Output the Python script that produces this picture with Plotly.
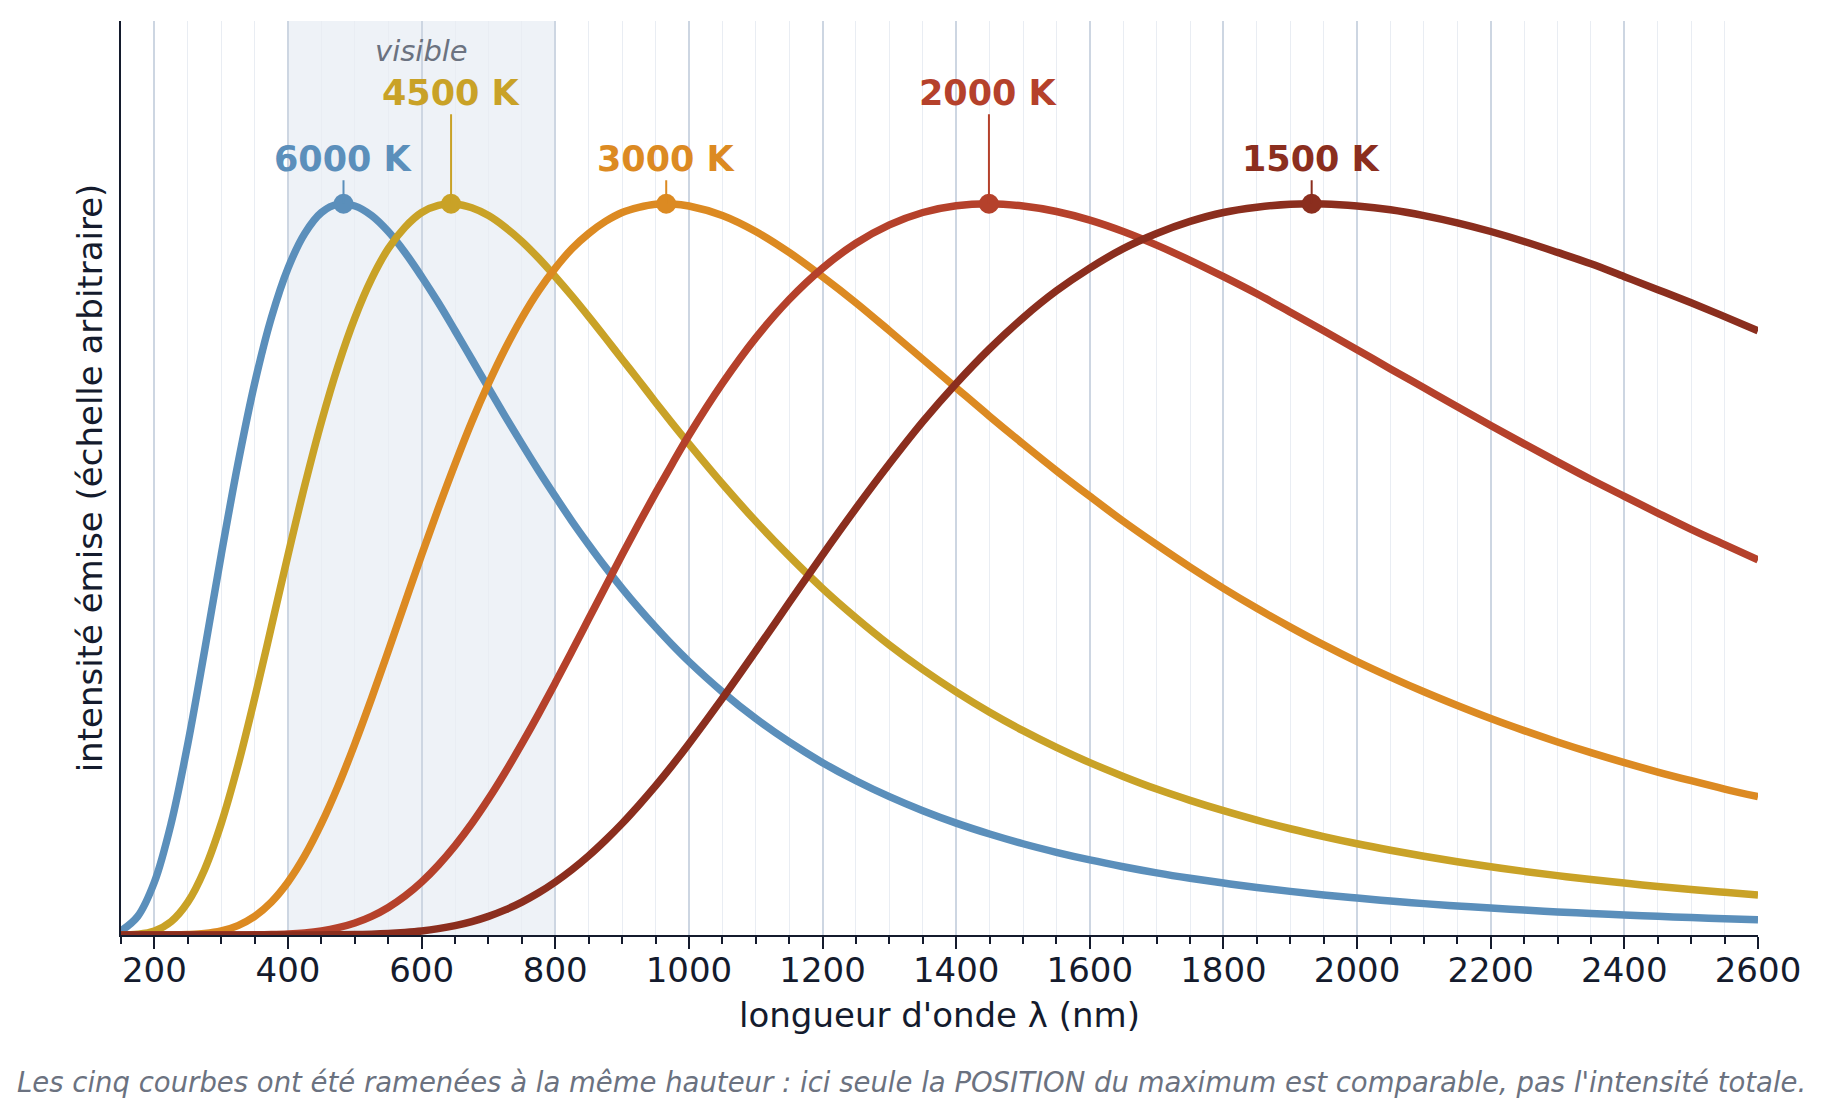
import plotly.graph_objects as go

# longueurs d'onde (nm) : pas de 25 nm jusqu'à 1000, puis 50 nm
wavelength = [150, 175, 200, 225, 250, 275, 300, 325, 350, 375,
              400, 425, 450, 475, 500, 525, 550, 575, 600, 625,
              650, 675, 700, 725, 750, 775, 800, 825, 850, 875,
              900, 925, 950, 975, 1000,
              1050, 1100, 1150, 1200, 1250, 1300, 1350, 1400, 1450, 1500,
              1550, 1600, 1650, 1700, 1750, 1800, 1850, 1900, 1950, 2000,
              2050, 2100, 2150, 2200, 2250, 2300, 2350, 2400, 2450, 2500,
              2550, 2600]

# intensités normalisées (maximum = 1)
i_6000 = [0.0056, 0.0255, 0.0725, 0.1525, 0.2616, 0.3884, 0.5200, 0.6444, 0.7543, 0.8441,
          0.9121, 0.9594, 0.9881, 0.9995, 0.9970, 0.9840, 0.9621, 0.9335, 0.9003, 0.8646,
          0.8264, 0.7874, 0.7483, 0.7094, 0.6717, 0.6350, 0.5999, 0.5658, 0.5338, 0.5031,
          0.4741, 0.4468, 0.4211, 0.3967, 0.3739,
          0.3326, 0.2960, 0.2640, 0.2357, 0.2110, 0.1892, 0.1700, 0.1530, 0.1381, 0.1248,
          0.1131, 0.1027, 0.0934, 0.0850, 0.0776, 0.0710, 0.0650, 0.0597, 0.0548, 0.0505,
          0.0465, 0.0429, 0.0397, 0.0368, 0.0341, 0.0316, 0.0294, 0.0274, 0.0255, 0.0238,
          0.0222, 0.0208]
i_4500 = [0.0001, 0.0011, 0.0056, 0.0184, 0.0450, 0.0894, 0.1525, 0.2320, 0.3236, 0.4213,
          0.5200, 0.6147, 0.7020, 0.7788, 0.8441, 0.8974, 0.9387, 0.9680, 0.9881, 0.9978,
          0.9998, 0.9945, 0.9839, 0.9680, 0.9485, 0.9256, 0.9003, 0.8737, 0.8457, 0.8168,
          0.7874, 0.7584, 0.7287, 0.6998, 0.6717,
          0.6171, 0.5658, 0.5183, 0.4740, 0.4338, 0.3967, 0.3631, 0.3326, 0.3047, 0.2795,
          0.2566, 0.2357, 0.2169, 0.1996, 0.1842, 0.1700, 0.1571, 0.1453, 0.1346, 0.1248,
          0.1159, 0.1077, 0.1002, 0.0934, 0.0870, 0.0812, 0.0759, 0.0710, 0.0664, 0.0622,
          0.0584, 0.0548]
i_3000 = [0.0000, 0.0000, 0.0000, 0.0001, 0.0006, 0.0020, 0.0056, 0.0129, 0.0255, 0.0450,
          0.0725, 0.1084, 0.1525, 0.2039, 0.2616, 0.3236, 0.3884, 0.4544, 0.5200, 0.5836,
          0.6444, 0.7020, 0.7543, 0.8018, 0.8441, 0.8810, 0.9121, 0.9387, 0.9594, 0.9759,
          0.9881, 0.9952, 0.9995, 0.9998, 0.9970,
          0.9840, 0.9621, 0.9335, 0.9003, 0.8646, 0.8264, 0.7874, 0.7483, 0.7094, 0.6717,
          0.6350, 0.5999, 0.5658, 0.5338, 0.5031, 0.4741, 0.4468, 0.4211, 0.3967, 0.3739,
          0.3527, 0.3326, 0.3138, 0.2960, 0.2795, 0.2640, 0.2494, 0.2357, 0.2229, 0.2110,
          0.1996, 0.1892]
i_2000 = [0.0000, 0.0000, 0.0000, 0.0000, 0.0000, 0.0000, 0.0000, 0.0000, 0.0002, 0.0006,
          0.0014, 0.0029, 0.0056, 0.0100, 0.0164, 0.0255, 0.0377, 0.0533, 0.0725, 0.0956,
          0.1223, 0.1525, 0.1861, 0.2226, 0.2616, 0.3024, 0.3449, 0.3884, 0.4324, 0.4764,
          0.5200, 0.5628, 0.6043, 0.6444, 0.6834,
          0.7543, 0.8166, 0.8691, 0.9121, 0.9460, 0.9711, 0.9881, 0.9973, 1.0000, 0.9970,
          0.9895, 0.9777, 0.9621, 0.9435, 0.9227, 0.9003, 0.8769, 0.8518, 0.8264, 0.8004,
          0.7742, 0.7483, 0.7224, 0.6968, 0.6717, 0.6470, 0.6229, 0.5999, 0.5771, 0.5548,
          0.5338, 0.5130]
i_1500 = [0.0000, 0.0000, 0.0000, 0.0000, 0.0000, 0.0000, 0.0000, 0.0000, 0.0000, 0.0000,
          0.0000, 0.0000, 0.0001, 0.0003, 0.0006, 0.0011, 0.0020, 0.0035, 0.0056, 0.0087,
          0.0129, 0.0184, 0.0255, 0.0343, 0.0450, 0.0577, 0.0725, 0.0894, 0.1084, 0.1296,
          0.1525, 0.1775, 0.2039, 0.2320, 0.2616,
          0.3236, 0.3884, 0.4544, 0.5200, 0.5836, 0.6444, 0.7020, 0.7543, 0.8018, 0.8441,
          0.8810, 0.9121, 0.9387, 0.9594, 0.9759, 0.9881, 0.9952, 0.9995, 0.9998, 0.9970,
          0.9918, 0.9839, 0.9740, 0.9621, 0.9485, 0.9335, 0.9179, 0.9003, 0.8826, 0.8646,
          0.8457, 0.8264]

temps = ["6000 K", "4500 K", "3000 K", "2000 K", "1500 K"]
peak_nm = [483, 644, 966, 1449, 1932]
peak_val = [1, 1, 1, 1, 1]

colors = ["#5b8fbb", "#c9a227", "#dc8a22", "#b5412b", "#8b2e1e"]
series = [i_6000, i_4500, i_3000, i_2000, i_1500]
label_lift = [45, 111, 45, 111, 45]  # px au-dessus du maximum

FONT = "DejaVu Sans"
INK = "#141b2d"
MUTED = "#6b7280"

fig = go.Figure()

for name, ys, col in zip(temps, series, colors):
    fig.add_trace(go.Scatter(
        x=wavelength, y=ys, mode="lines", name=name,
        line=dict(color=col, width=7.5, shape="spline", smoothing=1),
        showlegend=False,
    ))

for name, px_, pv, col, lift in zip(temps, peak_nm, peak_val, colors, label_lift):
    fig.add_trace(go.Scatter(
        x=[px_], y=[pv], mode="markers",
        marker=dict(color=col, size=20), showlegend=False,
    ))
    fig.add_annotation(
        x=px_, y=pv, text=f"<b>{name}</b>", showarrow=True,
        arrowhead=0, arrowwidth=2, arrowcolor=col, standoff=0,
        ax=0, ay=-lift, font=dict(family=FONT, size=35, color=col),
    )

# bande du visible
fig.add_shape(type="rect", xref="x", yref="paper", x0=400, x1=800, y0=0, y1=1,
              fillcolor="#eef2f7", line_width=0, layer="below")
fig.add_annotation(x=600, y=1.209, text="<i>visible</i>", showarrow=False,
                   font=dict(family=FONT, size=29, color=MUTED))

fig.add_annotation(
    xref="paper", yref="paper", x=0.4829, y=-0.1608,
    xanchor="center", yanchor="middle", showarrow=False,
    text="<i>Les cinq courbes ont été ramenées à la même hauteur : ici seule la "
         "POSITION du maximum est comparable, pas l'intensité totale.</i>",
    font=dict(family=FONT, size=27.5, color=MUTED),
)

fig.update_xaxes(
    range=[150, 2600], dtick=200, tick0=0,
    showline=True, linecolor=INK, linewidth=2,
    ticks="outside", ticklen=12, tickwidth=2, tickcolor=INK,
    ticklabelstandoff=-8,
    showgrid=True, gridcolor="#cdd6e2", gridwidth=2, zeroline=False,
    tickfont=dict(family=FONT, size=34, color=INK),
    title=dict(text="longueur d'onde λ (nm)", standoff=14,
               font=dict(family=FONT, size=34, color=INK)),
    minor=dict(dtick=50, tick0=0, ticks="outside", ticklen=7, tickwidth=1.5,
               tickcolor=INK, showgrid=True, gridcolor="#e9edf3", gridwidth=1),
)
fig.update_yaxes(
    range=[0, 1.25], showticklabels=False, ticks="", showgrid=False,
    zeroline=False, showline=True, linecolor=INK, linewidth=2,
    title=dict(text="intensité émise (échelle arbitraire)", standoff=6,
               font=dict(family=FONT, size=34, color=INK)),
)

fig.update_layout(
    width=1826, height=1119,
    margin=dict(l=113, r=76, t=13, b=192),
    plot_bgcolor="white", paper_bgcolor="white",
    font=dict(family=FONT, color=INK),
)

fig.write_html("out.html")
